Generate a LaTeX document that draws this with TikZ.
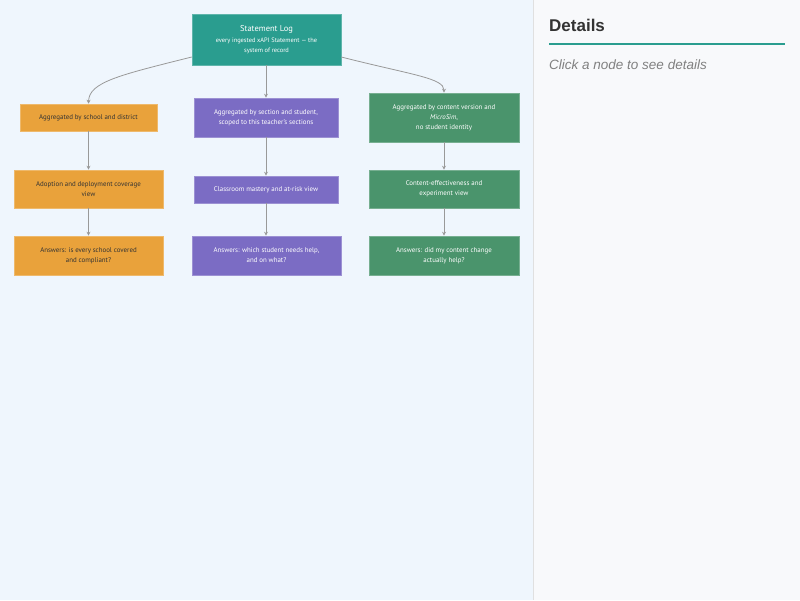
\documentclass[tikz,border=0pt]{standalone}
\usepackage{fontspec}
\setmainfont{PT Sans}
\newfontfamily\detfont{Liberation Sans}
\usetikzlibrary{arrows.meta}
\definecolor{bgleft}{HTML}{EFF6FD}
\definecolor{bgright}{HTML}{F8F9FB}
\definecolor{teal}{HTML}{2A9D8F}
\definecolor{orng}{HTML}{E9A23B}
\definecolor{purp}{HTML}{7B6CC4}
\definecolor{grn}{HTML}{4A946C}
\definecolor{edgec}{HTML}{999999}
\tikzset{
  box/.style={draw=#1!75!white, line width=0.6pt, fill=#1, inner sep=0pt, align=center, font=\fontsize{6.9}{10}\selectfont},
  wbox/.style={box=#1, text=white},
  obox/.style={box=orng, text=black!80},
  conn/.style={draw=edgec, line width=0.8pt, -{Stealth[length=4pt,width=4pt]}}
}
\begin{document}
\begin{tikzpicture}[x=1pt,y=-1pt]
\useasboundingbox (0,0) rectangle (800,600);
\fill[bgleft] (0,0) rectangle (533,600);
\fill[bgright] (533,0) rectangle (800,600);
\draw[black!12, line width=0.8pt] (533.5,0) -- (533.5,600);
\node[anchor=base west, font=\detfont\bfseries\fontsize{17}{20}\selectfont, text=black!80, inner sep=0pt] (dt) at (549,31) {Details};
\draw[teal, line width=2pt] (549,44) -- (785,44);
\node[anchor=base west, font=\detfont\itshape\fontsize{13.5}{16}\selectfont, text=black!50, inner sep=0pt] (ct) at (549,69) {Click a node to see details};

\node[wbox=teal, minimum width=149pt, minimum height=51pt] (sl) at (266.5,39.5) {{\fontsize{8.5}{12}\selectfont Statement Log}\\[1pt]{\fontsize{6.4}{10}\selectfont every ingested xAPI Statement — the}\\{\fontsize{6.4}{10}\selectfont system of record}};

\node[obox, minimum width=137pt, minimum height=27pt] (o1) at (88.5,117.5) {Aggregated by school and district};
\node[wbox=purp, minimum width=144pt, minimum height=39pt] (p1) at (266,117.5) {Aggregated by section and student,\\scoped to this teacher's sections};
\node[wbox=grn, minimum width=150pt, minimum height=49pt] (g1) at (444,117.5) {Aggregated by content version and\\\textit{MicroSim},\\no student identity};

\node[obox, minimum width=149pt, minimum height=38pt] (o2) at (88.5,189) {Adoption and deployment coverage\\view};
\node[wbox=purp, minimum width=144pt, minimum height=27pt] (p2) at (266,189.5) {Classroom mastery and at-risk view};
\node[wbox=grn, minimum width=150pt, minimum height=38pt] (g2) at (444,189) {Content-effectiveness and\\experiment view};

\node[obox, minimum width=149pt, minimum height=39pt] (o3) at (88.5,255.5) {Answers: is every school covered\\and compliant?};
\node[wbox=purp, minimum width=149pt, minimum height=39pt] (p3) at (266.5,255.5) {Answers: which student needs help,\\and on what?};
\node[wbox=grn, minimum width=150pt, minimum height=39pt] (g3) at (444,255.5) {Answers: did my content change\\actually help?};

\draw[conn] (sl.south west |- 0,57) .. controls (120,75) and (89,82) .. (o1.north);
\draw[conn] (p1.north |- sl.south) -- (p1.north);
\draw[conn] (sl.south east |- 0,57) .. controls (412,75) and (444,78) .. (g1.north);
\draw[conn] (o1.south) -- (o2.north);
\draw[conn] (o2.south) -- (o3.north);
\draw[conn] (p1.south) -- (p2.north);
\draw[conn] (p2.south) -- (p2.south |- p3.north);
\draw[conn] (g1.south) -- (g2.north);
\draw[conn] (g2.south) -- (g3.north);
\end{tikzpicture}
\end{document}
